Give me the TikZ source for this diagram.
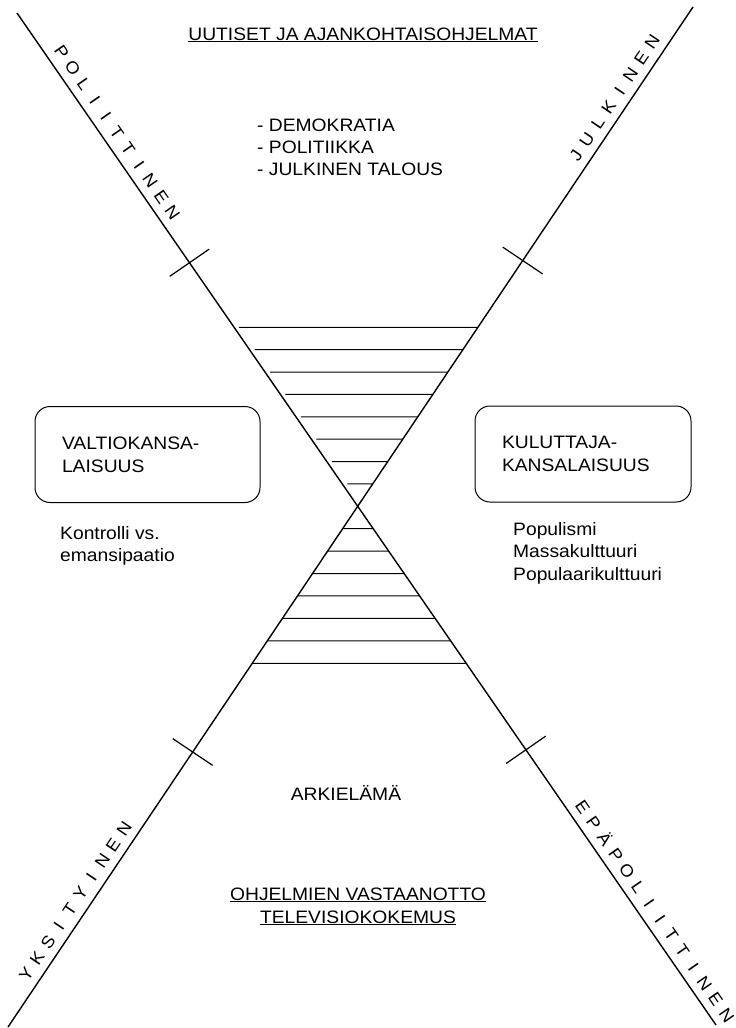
\documentclass[tikz,border=0pt]{standalone}
\usepackage{fontspec}
\setmainfont[FakeStretch=1.07]{Liberation Sans}
\usetikzlibrary{calc}

\newcommand{\spaced}[1]{\foreach \ch in {#1}{\makebox[19.5pt]{\ch}}}

\begin{document}
\begin{tikzpicture}[
    x=1pt, y=-1pt,
    axis/.style={draw=black, line width=1.4pt},
    hatch/.style={draw=black, line width=1pt},
    tickmark/.style={draw=black, line width=1.2pt},
    kbox/.style={rectangle, draw=black, line width=1pt, rounded corners=15pt,
                 align=left, text width=#1, inner xsep=27pt, minimum height=96pt,
                 font=\fontsize{18}{23}\selectfont},
    txt/.style={align=left, inner sep=0pt, font=\fontsize{18}{22}\selectfont},
    ulined/.style={align=center, inner sep=0pt, font=\fontsize{18}{23}\selectfont},
    axislbl/.style={sloped, anchor=south, inner xsep=0pt, inner ysep=8pt,
                    font=\fontsize{17}{17}\selectfont},
  ]
  \useasboundingbox (0,0) rectangle (736,1028);

  \coordinate (pl) at (17,13);
  \coordinate (ep) at (716,1025);
  \coordinate (ju) at (693,7);
  \coordinate (yk) at (8,1027);
  \coordinate (c) at (intersection cs: first line={(pl)--(ep)}, second line={(yk)--(ju)});

  \draw[axis] (pl) -- (ep);
  \draw[axis] (yk) -- (ju);

  \foreach \k in {1,...,8}
    \draw[hatch] ($(c)!{\k*22.4/494}!(pl) + (5,0)$) -- ($(c)!{\k*22.4/500}!(ju)$);
  \foreach \k in {1,...,7}
    \draw[hatch] ($(c)!{\k*22.4/520}!(yk)$) -- ($(c)!{\k*22.4/518}!(ep)$);

  \foreach \e in {pl,ju,yk,ep} {
    \coordinate (t-\e) at ($(c)!296pt!(\e)$);
    \draw[tickmark] ($(t-\e)!24pt!90:(c)$) -- ($(t-\e)!24pt!-90:(c)$);
  }

  \path (pl) -- (c) node[axislbl, pos=0.259] (polit) {\spaced{P,O,L,I,I,T,T,I,N,E,N}};
  \path (c) -- (ju) node[axislbl, pos=0.80] (julk) {\spaced{J,U,L,K,I,N,E,N}};
  \path (yk) -- (c) node[axislbl, pos=0.226] (yksit) {\spaced{Y,K,S,I,T,Y,I,N,E,N}};
  \path (c) -- (ep) node[axislbl, pos=0.796] (epapol) {\spaced{E,P,Ä,P,O,L,I,I,T,T,I,N,E,N}};

  \node[ulined, anchor=base] (uutiset) at (363,40) {\underline{UUTISET JA AJANKOHTAISOHJELMAT}};
  \node[txt, anchor=base west, font=\fontsize{18}{21.7}\selectfont] (aiheet) at (257,175)
    {- DEMOKRATIA\\- POLITIIKKA\\- JULKINEN TALOUS};

  \node[kbox=171pt] (valtio) at (147.5,454.5) {VALTIOKANSA-\\LAISUUS};
  \node[kbox=162pt] (kuluttaja) at (583,454) {KULUTTAJA-\\KANSALAISUUS};

  \node[txt, anchor=base west] (kontrolli) at (60,561) {Kontrolli vs.\\emansipaatio};
  \node[txt, anchor=base west, font=\fontsize{18}{22.5}\selectfont] (populismi) at (513,580)
    {Populismi\\Massakulttuuri\\Populaarikulttuuri};

  \node[txt, anchor=base] (arki) at (346,800) {ARKIELÄMÄ};
  \node[ulined, anchor=base] (vastaanotto) at (358,923)
    {\underline{OHJELMIEN VASTAANOTTO}\\\underline{TELEVISIOKOKEMUS}};
\end{tikzpicture}
\end{document}
